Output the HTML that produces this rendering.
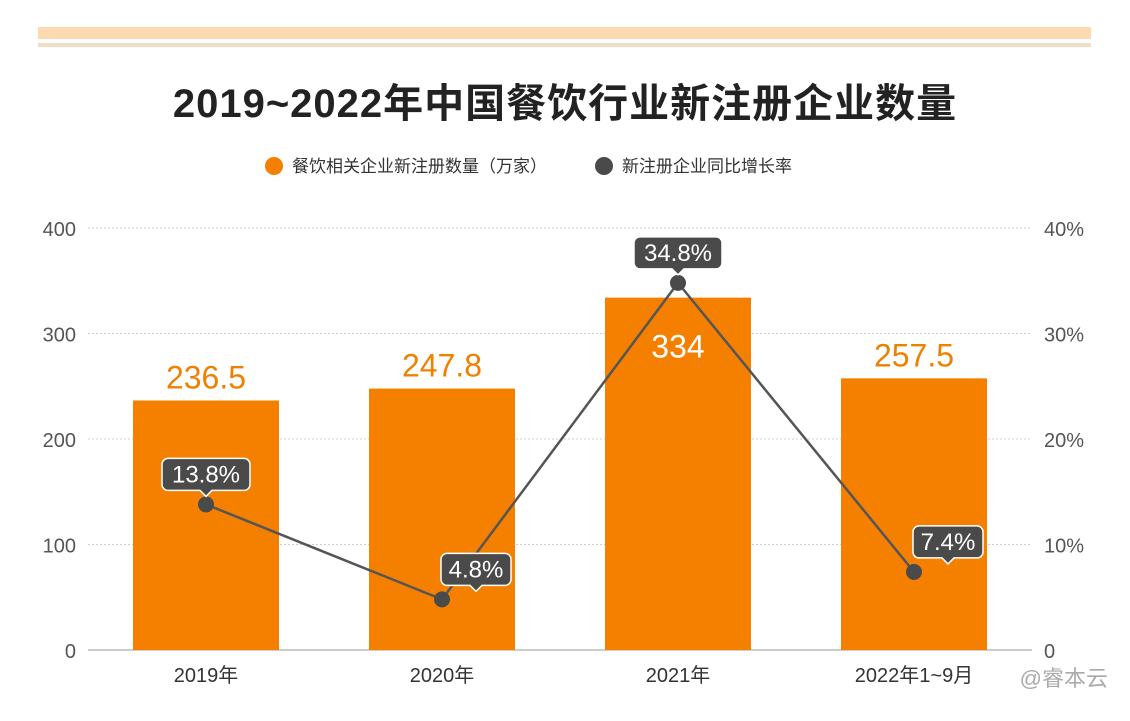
<!DOCTYPE html>
<html><head><meta charset="utf-8"><style>
body{margin:0;background:#fff;width:1130px;height:716px;overflow:hidden;font-family:"Liberation Sans","Noto Sans CJK SC",sans-serif}
</style></head><body>
<svg width="1130" height="716" xmlns="http://www.w3.org/2000/svg">
<rect x="38" y="27" width="1053" height="12" fill="#fdd9b2"/>
<rect x="38" y="43" width="1053" height="4" fill="#f3dcc4"/>
<text x="565" y="117" text-anchor="middle" font-size="40" font-weight="bold" letter-spacing="1" fill="#222" font-family="'Liberation Sans','Noto Sans CJK SC',sans-serif">2019~2022年中国餐饮行业新注册企业数量</text>
<g>
<circle cx="274" cy="166" r="9" fill="#f58000"/>
<text x="292" y="172" font-size="17" fill="#333">餐饮相关企业新注册数量（万家）</text>
<circle cx="604" cy="166" r="9" fill="#4a4a4a"/>
<text x="622" y="172" font-size="17" fill="#333">新注册企业同比增长率</text>
</g>
<g id="plot"></g>
<text x="1108" y="686" text-anchor="end" font-size="22" fill="#aaa">@睿本云</text>
</svg>
<script>
const categories=["2019年","2020年","2021年","2022年1~9月"];
const counts=[236.5,247.8,334,257.5];
const countLabels=["236.5","247.8","334","257.5"];
const rates=[13.8,4.8,34.8,7.4];
const leftTicks=[0,100,200,300,400];
const rightTicks=["0","10%","20%","30%","40%"];
const NS="http://www.w3.org/2000/svg";
const g=document.getElementById('plot');
const x0=88,x1=1032,yB=650,yT=228;
const band=(x1-x0)/categories.length;
const xc=i=>x0+band*(i+0.5);
const yL=v=>yB-(v/400)*(yB-yT);
const yR=v=>yB-(v/40)*(yB-yT);
function mk(t,a){const e=document.createElementNS(NS,t);for(const k in a)e.setAttribute(k,a[k]);g.appendChild(e);return e;}
leftTicks.forEach((t,i)=>{
 const y=yL(t);
 if(t>0){const l=mk('line',{x1:x0,x2:x1,y1:y,y2:y,stroke:'#ccc','stroke-dasharray':'2,2'});
 
 }
 const a=mk('text',{x:76,y:y+8,'text-anchor':'end','font-size':20,fill:'#555'});a.textContent=t;
 
 
 const b=mk('text',{x:1044,y:y+8,'font-size':20,fill:'#555'});b.textContent=rightTicks[i];
 
 
});
const ax=mk('line',{x1:x0,x2:x1,y1:yB,y2:yB,stroke:'#999'});


const bw=146;
categories.forEach((c,i)=>{
 const r=mk('rect',{x:xc(i)-bw/2,y:yL(counts[i]),width:bw,height:yB-yL(counts[i]),fill:'#f58000'});
 
 
 const inside=counts[i]>300;
 const v=mk('text',{x:xc(i),y:inside?yL(counts[i])+60:yL(counts[i])-12,'text-anchor':'middle','font-size':32,fill:inside?'#fff':'#f08000'});
 v.textContent=countLabels[i];
 
 
 const t=mk('text',{x:xc(i),y:682,'text-anchor':'middle','font-size':20,fill:'#333'});t.textContent=c;
 
 
});
const pl=mk('polyline',{points:rates.map((r,i)=>xc(i)+','+yR(r)).join(' '),fill:'none',stroke:'#555','stroke-width':2.5});


rates.forEach((r,i)=>{
 const x=xc(i),y=yR(r);
 const p=mk('circle',{cx:x,cy:y,r:8,fill:'#4a4a4a'});
 
 
 const bx=i==3?x+34:(i==1?x+34:x),by=y-30;
 const w=r>=10?88:70;
 const box=mk('path',{d:`M${bx-w/2+6},${by-16} h${w-12} a6,6 0 0 1 6,6 v20 a6,6 0 0 1 -6,6 h${-(w/2-12)} l-6,6 l-6,-6 h${-(w/2-12)} a6,6 0 0 1 -6,-6 v-20 a6,6 0 0 1 6,-6z`,fill:'#4a4a4a',stroke:'#fff','stroke-width':1.5});
 
 
 const t=mk('text',{x:bx,y:by+8,'text-anchor':'middle','font-size':24,fill:'#fff'});t.textContent=r.toFixed(1)+'%';
 
 
});
</script>
</body></html>
